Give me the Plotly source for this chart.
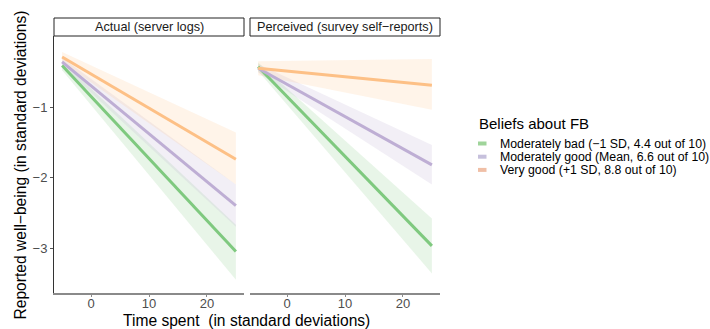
import plotly.graph_objects as go

# ---- data ----
x_ends = [-5, 25]
panels = ["Actual (server logs)", "Perceived (survey self\u2212reports)"]
groups = ["Moderately bad (\u22121 SD, 4.4 out of 10)",
          "Moderately good (Mean, 6.6 out of 10)",
          "Very good (+1 SD, 8.8 out of 10)"]

actual_fit = {"bad": [-0.41, -3.05], "good": [-0.36, -2.40], "very": [-0.29, -1.74]}
actual_lo = {"bad": [-0.48, -3.45], "good": [-0.42, -2.70], "very": [-0.36, -2.10]}
actual_hi = {"bad": [-0.35, -2.67], "good": [-0.30, -2.10], "very": [-0.22, -1.36]}

perc_fit = {"bad": [-0.43, -2.97], "good": [-0.45, -1.82], "very": [-0.45, -0.69]}
perc_lo = {"bad": [-0.49, -3.36], "good": [-0.51, -2.10], "very": [-0.55, -1.04]}
perc_hi = {"bad": [-0.37, -2.58], "good": [-0.39, -1.54], "very": [-0.35, -0.32]}

keys = ["bad", "good", "very"]
line_colors = {"bad": "#7fc97f", "good": "#beaed4", "very": "#fdc086"}
band_colors = {"bad": "rgba(127,201,127,0.18)", "good": "rgba(190,174,212,0.2)", "very": "rgba(253,192,134,0.18)"}
legend_key_colors = {"bad": "#9fd49a", "good": "#c6c0dc", "very": "#f0bfa6"}

x_ticks = [0, 10, 20]
y_ticks = [-1, -2, -3]

W, H = 710, 329
fig = go.Figure()

datasets = [(actual_fit, actual_lo, actual_hi, "x", "y"),
            (perc_fit, perc_lo, perc_hi, "x2", "y2")]
for fit, lo, hi, xa, ya in datasets:
    for k in keys:
        fig.add_trace(go.Scatter(x=x_ends + x_ends[::-1], y=hi[k] + lo[k][::-1],
                                 fill="toself", fillcolor=band_colors[k],
                                 line=dict(width=0), mode="lines",
                                 hoverinfo="skip", showlegend=False,
                                 xaxis=xa, yaxis=ya))
    for k in keys:
        fig.add_trace(go.Scatter(x=x_ends, y=fit[k], mode="lines",
                                 line=dict(color=line_colors[k], width=3),
                                 showlegend=False, xaxis=xa, yaxis=ya))

def px_x(p):
    return p / W

def px_y(p):
    return 1 - p / H

d1 = [px_x(54), px_x(244)]
d2 = [px_x(250), px_x(440)]
ydom = [px_y(293), px_y(36)]
xr = [-6.4, 26.4]
yr = [-3.638, 0.007]

FONT = "Liberation Sans, Arial, sans-serif"
tickfont = dict(family=FONT, size=13, color="#4d4d4d")
common_x = dict(range=xr, tickvals=x_ticks, showgrid=False, zeroline=False,
                showline=True, linecolor="#8a8a8a", linewidth=1.5,
                ticks="outside", ticklen=2, tickcolor="#8a8a8a", tickfont=tickfont,
                ticklabelstandoff=-4)
fig.update_layout(
    width=W, height=H, margin=dict(l=0, r=0, t=0, b=0),
    paper_bgcolor="white", plot_bgcolor="white", showlegend=False,
    xaxis=dict(domain=d1, anchor="y", **common_x),
    xaxis2=dict(domain=d2, anchor="y2", **common_x),
    yaxis=dict(domain=ydom, range=yr, tickvals=y_ticks, showgrid=False, zeroline=False,
               showline=True, linecolor="#333333", linewidth=1,
               ticks="outside", ticklen=3, tickcolor="#555555", tickfont=tickfont, anchor="x"),
    yaxis2=dict(domain=ydom, range=yr, showgrid=False, zeroline=False, showline=False,
                showticklabels=False, ticks="", anchor="x2"),
)

# strips
for dom, label in zip([d1, d2], panels):
    fig.add_shape(type="rect", xref="paper", yref="paper",
                  x0=dom[0], x1=dom[1], y0=px_y(36), y1=px_y(18),
                  line=dict(color="#222222", width=1), fillcolor="white")
    fig.add_annotation(text=label, xref="paper", yref="paper",
                       x=(dom[0] + dom[1]) / 2, y=px_y(27), showarrow=False,
                       xanchor="center", yanchor="middle",
                       font=dict(family=FONT, size=12.7, color="#1a1a1a"))

# axis titles
title_font = dict(family=FONT, size=15.6, color="#000000")
fig.add_annotation(text="Time spent  (in standard deviations)", xref="paper", yref="paper",
                   x=px_x(246), y=px_y(320), showarrow=False, xanchor="center", yanchor="middle",
                   font=title_font)
fig.add_annotation(text="Reported well\u2212being (in standard deviations)", xref="paper", yref="paper",
                   x=px_x(19.5), y=px_y(165), showarrow=False, textangle=-90,
                   xanchor="center", yanchor="middle", font=title_font)

# legend (manual)
fig.add_annotation(text="Beliefs about FB", xref="paper", yref="paper",
                   x=px_x(476.5), y=px_y(123), showarrow=False, xanchor="left", yanchor="middle",
                   font=dict(family=FONT, size=15, color="#000000"))
for i, k in enumerate(keys):
    yc = 143.5 + i * 13.2
    fig.add_shape(type="rect", xref="paper", yref="paper",
                  x0=px_x(478), x1=px_x(486.5), y0=px_y(yc + 2), y1=px_y(yc - 2),
                  line=dict(width=0), fillcolor=legend_key_colors[k])
    fig.add_annotation(text=groups[i], xref="paper", yref="paper",
                       x=px_x(498), y=px_y(yc), showarrow=False, xanchor="left", yanchor="middle",
                       font=dict(family=FONT, size=12.3, color="#000000"))

fig.write_html("out.html", config={"displayModeBar": False},
               post_script="document.body.style.margin='0';document.body.style.overflow='hidden';")
